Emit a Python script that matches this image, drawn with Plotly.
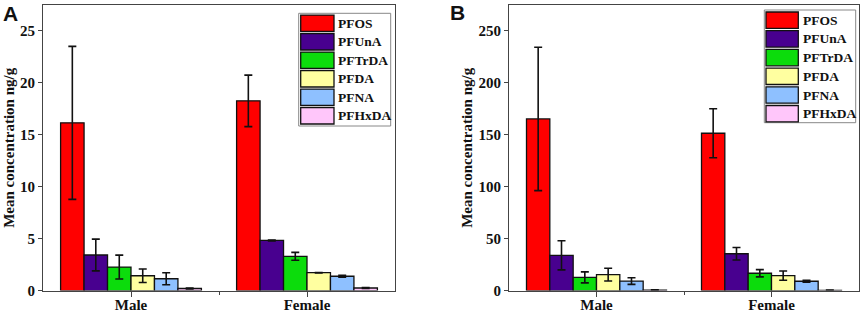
import plotly.graph_objects as go

W, H = 865, 314

categories = ["Male", "Female"]
compounds = ["PFOS", "PFUnA", "PFTrDA", "PFDA", "PFNA", "PFHxDA"]
colors = ["#FF0000", "#48008F", "#0CDC0C", "#FFFFA0", "#8EC0FF", "#FFC6FA"]

# Panel A (ng/g)
a_male = [16.15, 3.43, 2.27, 1.43, 1.14, 0.2]
a_male_err = [7.37, 1.53, 1.15, 0.65, 0.58, 0.05]
a_female = [18.27, 4.83, 3.3, 1.73, 1.38, 0.25]
a_female_err = [2.48, 0.04, 0.38, 0.02, 0.1, 0.05]

# Panel B (ng/g)
b_male = [165.3, 34.0, 12.7, 15.4, 9.2, 0.5]
b_male_err = [69.0, 14.0, 5.3, 6.1, 3.2, 0.2]
b_female = [151.5, 35.5, 16.7, 14.4, 9.0, 0.3]
b_female_err = [23.6, 6.0, 3.5, 4.5, 1.0, 0.2]

SERIF = "Liberation Serif, Times New Roman, serif"
SANS = "Liberation Sans, Arial, sans-serif"


def px(x):
    return x / W


def py(y):
    return 1 - y / H


fig = go.Figure()

panels = [
    ("x", "y", a_male, a_male_err, a_female, a_female_err),
    ("x2", "y2", b_male, b_male_err, b_female, b_female_err),
]
for xa, ya, m, me, f, fe in panels:
    for i, name in enumerate(compounds):
        fig.add_trace(go.Bar(
            x=[0, 1], y=[m[i], f[i]], name=name,
            xaxis=xa, yaxis=ya, offsetgroup=str(i),
            marker=dict(color=colors[i], line=dict(color="#111111", width=1.3)),
            error_y=dict(type="data", array=[me[i], fe[i]], color="#111111",
                         thickness=1.6, width=4),
            showlegend=False,
        ))

axis_line = "#444444"
tickfont = dict(family=SERIF, size=15, color="#111111", weight="bold")
y_top_px = 5.0
y_bot_px = 290.6

xcommon = dict(range=[-0.5, 1.5], tickvals=[0, 1], ticktext=categories,
               ticks="outside", ticklen=5, tickwidth=1, tickcolor=axis_line,
               minor=dict(tickvals=[0.5], ticks="outside", ticklen=3,
                          tickcolor=axis_line),
               showline=True, linecolor=axis_line, linewidth=1, mirror=True,
               showgrid=False, zeroline=False, tickfont=tickfont,
               automargin=False, ticklabelstandoff=-5)
ycommon = dict(ticks="outside", ticklen=4, tickwidth=1, tickcolor=axis_line,
               showline=True, linecolor=axis_line, linewidth=1, mirror=True,
               showgrid=False, zeroline=False, tickfont=tickfont,
               automargin=False,
               domain=[py(y_bot_px), py(y_top_px)])

fig.update_layout(
    width=W, height=H,
    margin=dict(l=0, r=0, t=0, b=0, autoexpand=False),
    paper_bgcolor="white", plot_bgcolor="white",
    barmode="group", bargap=0.2, bargroupgap=0,
    xaxis=dict(xcommon, domain=[px(43), px(395)], anchor="y"),
    yaxis=dict(ycommon, range=[0, 27.5], dtick=5, anchor="x"),
    xaxis2=dict(xcommon, domain=[px(509), px(859)], anchor="y2"),
    yaxis2=dict(ycommon, range=[0, 275], dtick=50, anchor="x2"),
    showlegend=False,
)

shapes = []
annotations = []

# Y axis titles
for xc in (9, 467):
    annotations.append(dict(
        x=px(xc), y=py((y_top_px + y_bot_px) / 2), xref="paper", yref="paper",
        text="<b>Mean concentration ng/g</b>", textangle=-90, showarrow=False,
        font=dict(family=SERIF, size=15, color="#111111"),
        xanchor="center", yanchor="middle"))

# Panel labels
for lab, xc, yc in (("A", 10, 14), ("B", 458, 12.5)):
    annotations.append(dict(
        x=px(xc), y=py(yc), xref="paper", yref="paper", text=f"<b>{lab}</b>",
        showarrow=False, font=dict(family=SANS, size=21, color="#111111"),
        xanchor="center", yanchor="middle"))

# Custom legends (large swatches)
legends = [
    dict(box=(298.7, 13.3, 390.7, 126.0), sw=(300.7, 334.0), tx=336.5, y0=23.3, pitch=18.5),
    dict(box=(764.3, 10.0, 855.7, 122.7), sw=(766.0, 798.3), tx=801.5, y0=20.2, pitch=18.7),
]
for lg in legends:
    x0, y0, x1, y1 = lg["box"]
    shapes.append(dict(type="rect", xref="paper", yref="paper",
                       x0=px(x0), x1=px(x1), y0=py(y1), y1=py(y0),
                       line=dict(color="#888888", width=1), fillcolor="white",
                       layer="above"))
    for i, name in enumerate(compounds):
        yc = lg["y0"] + i * lg["pitch"]
        shapes.append(dict(type="rect", xref="paper", yref="paper",
                           x0=px(lg["sw"][0]), x1=px(lg["sw"][1]),
                           y0=py(yc + 8.2), y1=py(yc - 8.2),
                           line=dict(color="#111111", width=1.3),
                           fillcolor=colors[i], layer="above"))
        annotations.append(dict(
            x=px(lg["tx"]), y=py(yc), xref="paper", yref="paper",
            text=f"<b>{name}</b>", showarrow=False,
            font=dict(family=SERIF, size=13.5, color="#111111"),
            xanchor="left", yanchor="middle", borderpad=0))

fig.update_layout(shapes=shapes, annotations=annotations)

fig.write_html("out.html", config={"displayModeBar": False},
               post_script="document.body.style.margin='0';")
